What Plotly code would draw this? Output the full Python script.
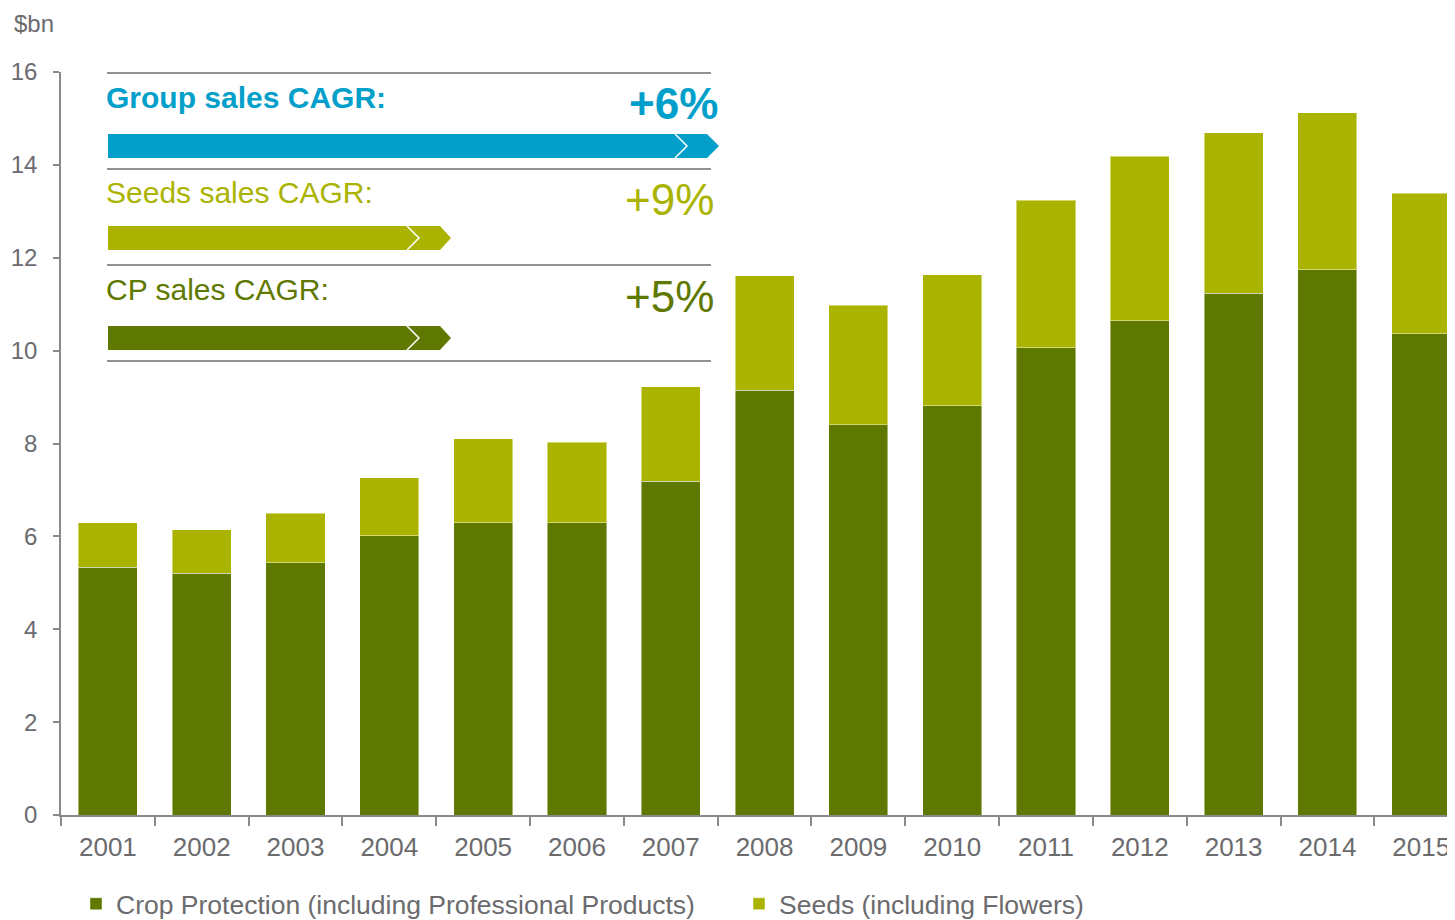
import plotly.graph_objects as go

years = [str(y) for y in range(2001, 2016)]
crop_protection = [5.34, 5.21, 5.43, 6.01, 6.29, 6.29, 7.19, 9.15, 8.40, 8.81, 10.06, 10.64, 11.24, 11.74, 10.36]
seeds = [0.95, 0.93, 1.07, 1.25, 1.81, 1.74, 2.03, 2.46, 2.58, 2.82, 3.18, 3.55, 3.45, 3.38, 3.03]
y_ticks = [0, 2, 4, 6, 8, 10, 12, 14, 16]
series_names = ["Crop Protection (including Professional Products)", "Seeds (including Flowers)"]
cagr_labels = ["Group sales CAGR:", "Seeds sales CAGR:", "CP sales CAGR:"]
cagr_values = ["+6%", "+9%", "+5%"]

CP_COLOR = "#5f7800"
SEED_COLOR = "#aab400"
BLUE = "#019fc9"
GRAY = "#6b6b6e"
FONT = "Liberation Sans, Arial, sans-serif"

# page offset from default body margin
OFF = 8
W, H = 1455 - OFF, 920
L, R, T = 61 - OFF, 0, 72 - OFF
PW = W - L - R          # 1394
PH = 743
B = H - T - PH
PAGE_LEFT = L + OFF      # 61
PAGE_BOTTOM = T + OFF + PH  # 815


def xp(px):
    return (px - PAGE_LEFT) / PW


def yp(py):
    return (PAGE_BOTTOM - py) / PH


fig = go.Figure()
bar_line = dict(color="rgba(255,255,255,0.45)", width=1)
fig.add_trace(go.Bar(x=years, y=crop_protection, name=series_names[0],
                     marker=dict(color=CP_COLOR, line=bar_line)))
fig.add_trace(go.Bar(x=years, y=seeds, name=series_names[1],
                     marker=dict(color=SEED_COLOR, line=bar_line)))

shapes = []
annotations = []

# separator lines
for py in [73, 169, 265, 361]:
    shapes.append(dict(type="line", xref="paper", yref="paper",
                       x0=xp(107), x1=xp(711), y0=yp(py), y1=yp(py),
                       line=dict(color="#6e6e6e", width=1.5)))

# arrows
arrow_specs = [
    (BLUE, 134, 158, 707, 719, 675),
    (SEED_COLOR, 226, 250, 440, 451, 407),
    (CP_COLOR, 326, 350, 440, 451, 407),
]
for color, top, bot, xe, tip, chev in arrow_specs:
    mid = (top + bot) / 2
    path = (f"M {xp(108)},{yp(top)} L {xp(xe)},{yp(top)} L {xp(tip)},{yp(mid)} "
            f"L {xp(xe)},{yp(bot)} L {xp(108)},{yp(bot)} Z")
    shapes.append(dict(type="path", xref="paper", yref="paper", path=path,
                       fillcolor=color, line=dict(width=0)))
    cpath = (f"M {xp(chev)},{yp(top)} L {xp(chev + 12)},{yp(mid)} L {xp(chev)},{yp(bot)}")
    shapes.append(dict(type="path", xref="paper", yref="paper", path=cpath,
                       line=dict(color="white", width=1.5)))

label_colors = [BLUE, SEED_COLOR, CP_COLOR]
label_y = [97, 193, 289]
value_y = [103, 199, 296]
value_x = [720, 716, 716]
for i in range(3):
    txt = cagr_labels[i]
    vtxt = cagr_values[i]
    if i == 0:
        txt = f"<b>{txt}</b>"
        vtxt = f"<b>{vtxt}</b>"
    annotations.append(dict(xref="paper", yref="paper", x=xp(104), y=yp(label_y[i]),
                            xanchor="left", yanchor="middle", showarrow=False,
                            text=txt, font=dict(family=FONT, size=30, color=label_colors[i])))
    annotations.append(dict(xref="paper", yref="paper", x=xp(value_x[i]), y=yp(value_y[i]),
                            xanchor="right", yanchor="middle", showarrow=False,
                            text=vtxt, font=dict(family=FONT, size=44, color=label_colors[i])))

annotations.append(dict(xref="paper", yref="paper", x=xp(12), y=yp(OFF),
                        xanchor="left", yanchor="top", showarrow=False,
                        text="$bn", font=dict(family=FONT, size=24, color=GRAY)))

fig.update_layout(
    width=W, height=H,
    margin=dict(l=L, r=R, t=T, b=B),
    barmode="stack",
    bargap=0.37,
    plot_bgcolor="white",
    paper_bgcolor="white",
    font=dict(family=FONT, color=GRAY),
    shapes=shapes,
    annotations=annotations,
    showlegend=True,
    legend=dict(orientation="h", traceorder="normal",
                x=xp(76), xanchor="left", y=yp(904), yanchor="middle",
                font=dict(family=FONT, size=26.5, color=GRAY),
                entrywidth=618, entrywidthmode="pixels",
                bgcolor="rgba(0,0,0,0)"),
    xaxis=dict(range=[-0.5, 14.36], showline=True, linecolor="#8a8a8a", linewidth=1.5,
               ticks="outside", ticklen=9, tickcolor="#8a8a8a", tickwidth=1.5,
               tickson="boundaries", showgrid=False, zeroline=False, ticklabelstandoff=8,
               tickfont=dict(family=FONT, size=26, color=GRAY)),
    yaxis=dict(range=[0, 16], tickvals=y_ticks, showline=True, linecolor="#8a8a8a", linewidth=1.5,
               ticks="outside", ticklen=6, tickcolor="#8a8a8a", tickwidth=1.5,
               showgrid=False, zeroline=False, ticklabelstandoff=11,
               tickfont=dict(family=FONT, size=24, color=GRAY)),
)

fig.write_html("out.html")
